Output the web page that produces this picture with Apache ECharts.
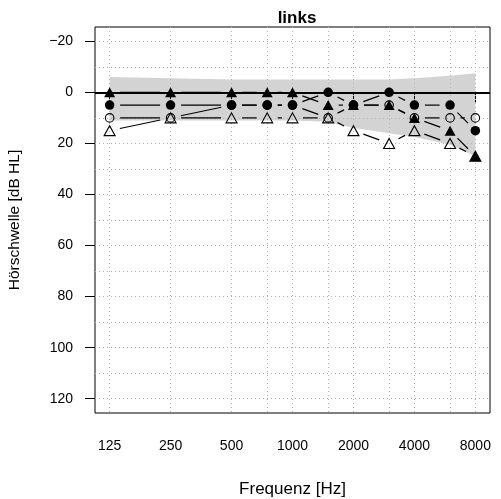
<!DOCTYPE html>
<html><head><meta charset="utf-8">
<script src="https://cdn.jsdelivr.net/npm/echarts@6/dist/echarts.min.js"></script>
<style>html,body{margin:0;padding:0;background:#fff}#c{width:501px;height:499px}</style>
</head><body><div id="c"></div>
<script>
const freqs = [125, 250, 500, 750, 1000, 1500, 2000, 3000, 4000, 6000, 8000];
const seriesA = [0, 0, 0, 0, 0, 5, 5, 5, 10, 15, 25];        // filled triangle
const seriesB = [5, 5, 5, 5, 5, 0, 5, 0, 5, 5, 15];          // filled circle
const seriesC = [10, 10, 5, 5, 5, 10, 5, 5, 10, 10, 10];     // open circle
const seriesD = [15, 10, 10, 10, 10, 10, 15, 20, 15, 20, 25]; // open triangle
const bandFreqs = [125, 250, 500, 1000, 1500, 2000, 3000, 4000, 6000, 8000];
const bandUpper = [-6, -5.5, -5, -5, -5, -5, -5, -5.5, -6.5, -7.5];
const bandLower = [11, 11, 11, 11, 11.5, 14, 16, 17.5, 20.5, 25];
const xTicks = [125, 250, 500, 1000, 2000, 4000, 8000];
const yTicks = [-20, 0, 20, 40, 60, 80, 100, 120];
const yGrid = [-20, -10, 0, 10, 20, 30, 40, 50, 60, 70, 80, 90, 100, 110, 120];
const xGrid = [125, 250, 500, 750, 1000, 1500, 2000, 3000, 4000, 6000, 8000];
const refLine = [0];

const FONT = 'Liberation Sans, Arial, Helvetica, sans-serif';
const ext = Math.pow(2, 0.24);
const yPad = (120 - (-20)) * 0.04;
const GAP = 10.5;

function pairs(vals) { return freqs.map((f, i) => [f, vals[i]]); }

const chart = echarts.init(document.getElementById('c'), null, {renderer: 'canvas'});

const gridLine = {color: '#b4b4b4', width: 1, type: [1, 3]};

// connecting segments with gaps around the points (like R type = "b")
function segSeries(vals) {
  return {
    type: 'custom', z: 3, silent: true, clip: false,
    data: pairs(vals),
    renderItem: function (params, api) {
      const i = params.dataIndex;
      if (i >= freqs.length - 1) return null;
      const p1 = api.coord([api.value(0), api.value(1)]);
      const p2 = api.coord([freqs[i + 1], vals[i + 1]]);
      const dx = p2[0] - p1[0], dy = p2[1] - p1[1];
      const d = Math.sqrt(dx * dx + dy * dy);
      if (d <= 2 * GAP + 0.5) return null;
      const ux = dx / d, uy = dy / d;
      return {
        type: 'line',
        shape: {x1: p1[0] + ux * GAP, y1: p1[1] + uy * GAP, x2: p2[0] - ux * GAP, y2: p2[1] - uy * GAP},
        style: {stroke: '#000', lineWidth: 1.2}
      };
    }
  };
}

function symSeries(vals, symbol, filled, size, z) {
  return {
    type: 'scatter', data: pairs(vals), symbol: symbol, symbolSize: size,
    z: z, clip: false, silent: true,
    itemStyle: filled ? {color: '#000', borderWidth: 0, opacity: 1}
                      : {color: 'rgba(0,0,0,0)', borderColor: '#000', borderWidth: 1.1, opacity: 1},
    emphasis: {disabled: true}
  };
}

chart.setOption({
  animation: false,
  title: {text: 'links', left: 292, textAlign: 'center', top: 5,
          textStyle: {fontFamily: FONT, fontSize: 17, fontWeight: 'bold', color: '#000'}},
  grid: {left: 95, top: 27, right: 11, bottom: 86, show: true, borderColor: '#000', borderWidth: 1,
         containLabel: false, outerBoundsMode: 'none'},
  xAxis: {
    type: 'log', logBase: 2, min: 125 / ext, max: 8000 * ext,
    name: 'Frequenz [Hz]', nameLocation: 'middle', nameGap: 68,
    nameTextStyle: {fontFamily: FONT, fontSize: 17, color: '#000'},
    axisLine: {show: false},
    axisTick: {show: true, length: 10, lineStyle: {color: '#000'}, customValues: xTicks},
    axisLabel: {customValues: xTicks, margin: 26, color: '#000', fontFamily: FONT, fontSize: 14,
                formatter: v => String(Math.round(v))},
    splitLine: {show: false}, minorTick: {show: false}
  },
  yAxis: {
    type: 'value', inverse: true, min: -20 - yPad, max: 120 + yPad,
    name: 'Hörschwelle [dB HL]', nameLocation: 'middle', nameGap: 72, nameRotate: 90,
    nameTextStyle: {fontFamily: FONT, fontSize: 15.5, color: '#000'},
    axisLine: {show: false},
    axisTick: {show: true, length: 10, lineStyle: {color: '#000'}, customValues: yTicks},
    axisLabel: {customValues: yTicks, margin: 22, color: '#000', fontFamily: FONT, fontSize: 14,
                formatter: v => v < 0 ? '\u2212' + Math.abs(v) : String(v)},
    splitLine: {show: false}
  },
  series: [
    {
      type: 'custom', z: 0, silent: true, clip: true,
      data: [[bandFreqs[0], bandUpper[0]]],
      renderItem: function (params, api) {
        const pts = [];
        for (let i = 0; i < bandFreqs.length; i++) pts.push(api.coord([bandFreqs[i], bandUpper[i]]));
        for (let i = bandFreqs.length - 1; i >= 0; i--) pts.push(api.coord([bandFreqs[i], bandLower[i]]));
        return {type: 'polygon', shape: {points: pts}, style: {fill: '#d3d3d3'}};
      }
    },
    {
      type: 'line', data: [], z: 1, silent: true,
      markLine: {
        silent: true, symbol: ['none', 'none'], z: 1, animation: false,
        label: {show: false}, lineStyle: gridLine, emphasis: {disabled: true},
        data: yGrid.map(v => ({yAxis: v})).concat(xGrid.map(f => ({xAxis: f})))
      }
    },
    {
      type: 'line', data: [], z: 2, silent: true,
      markLine: {
        silent: true, symbol: ['none', 'none'], z: 2, animation: false,
        label: {show: false}, lineStyle: {color: '#000', width: 2, type: 'solid'},
        emphasis: {disabled: true},
        data: refLine.map(v => ({yAxis: v}))
      }
    },
    segSeries(seriesA),
    segSeries(seriesB),
    segSeries(seriesC),
    segSeries(seriesD),
    symSeries(seriesC, 'circle', false, 8.5, 4),
    symSeries(seriesD, 'triangle', false, [11, 10], 5),
    symSeries(seriesB, 'circle', true, 9.5, 6),
    symSeries(seriesA, 'triangle', true, [11, 10], 7)
  ]
});
</script>
</body></html>
